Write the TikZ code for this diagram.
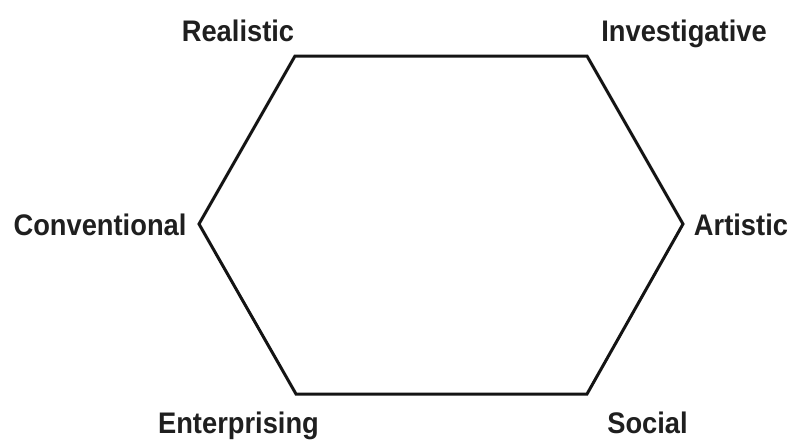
\documentclass[tikz,border=0pt]{standalone}
\usepackage{fontspec}
\setmainfont{Liberation Sans}
\newcommand{\tallt}[1]{\scalebox{1}[1.09]{#1}}
\begin{document}
\begin{tikzpicture}[x=1pt,y=-1pt,
  lbl/.style={anchor=base,inner sep=0pt,font=\fontsize{27.3}{30}\selectfont\bfseries,text=black!88},
  edge/.style={line width=3pt,black!92,line join=miter}]
\useasboundingbox (0,0) rectangle (797,439);
\coordinate (tl) at (295,56);
\coordinate (tr) at (587,56);
\coordinate (r) at (683,224);
\coordinate (br) at (587,394);
\coordinate (bl) at (296,394);
\coordinate (l) at (199,224);
\draw[edge] (tl) -- (tr) -- (r) -- (br) -- (bl) -- (l) -- cycle;
\node[lbl] (real) at (238,41) {\tallt{Realistic}};
\node[lbl] (inv) at (684,41) {\tallt{Investigative}};
\node[lbl] (conv) at (100,235.5) {\tallt{Conventional}};
\node[lbl] (art) at (741,235.5) {\tallt{Artistic}};
\node[lbl] (ent) at (238.5,433) {\tallt{Enterprising}};
\node[lbl] (soc) at (647.5,433) {\tallt{Social}};
\end{tikzpicture}
\end{document}
